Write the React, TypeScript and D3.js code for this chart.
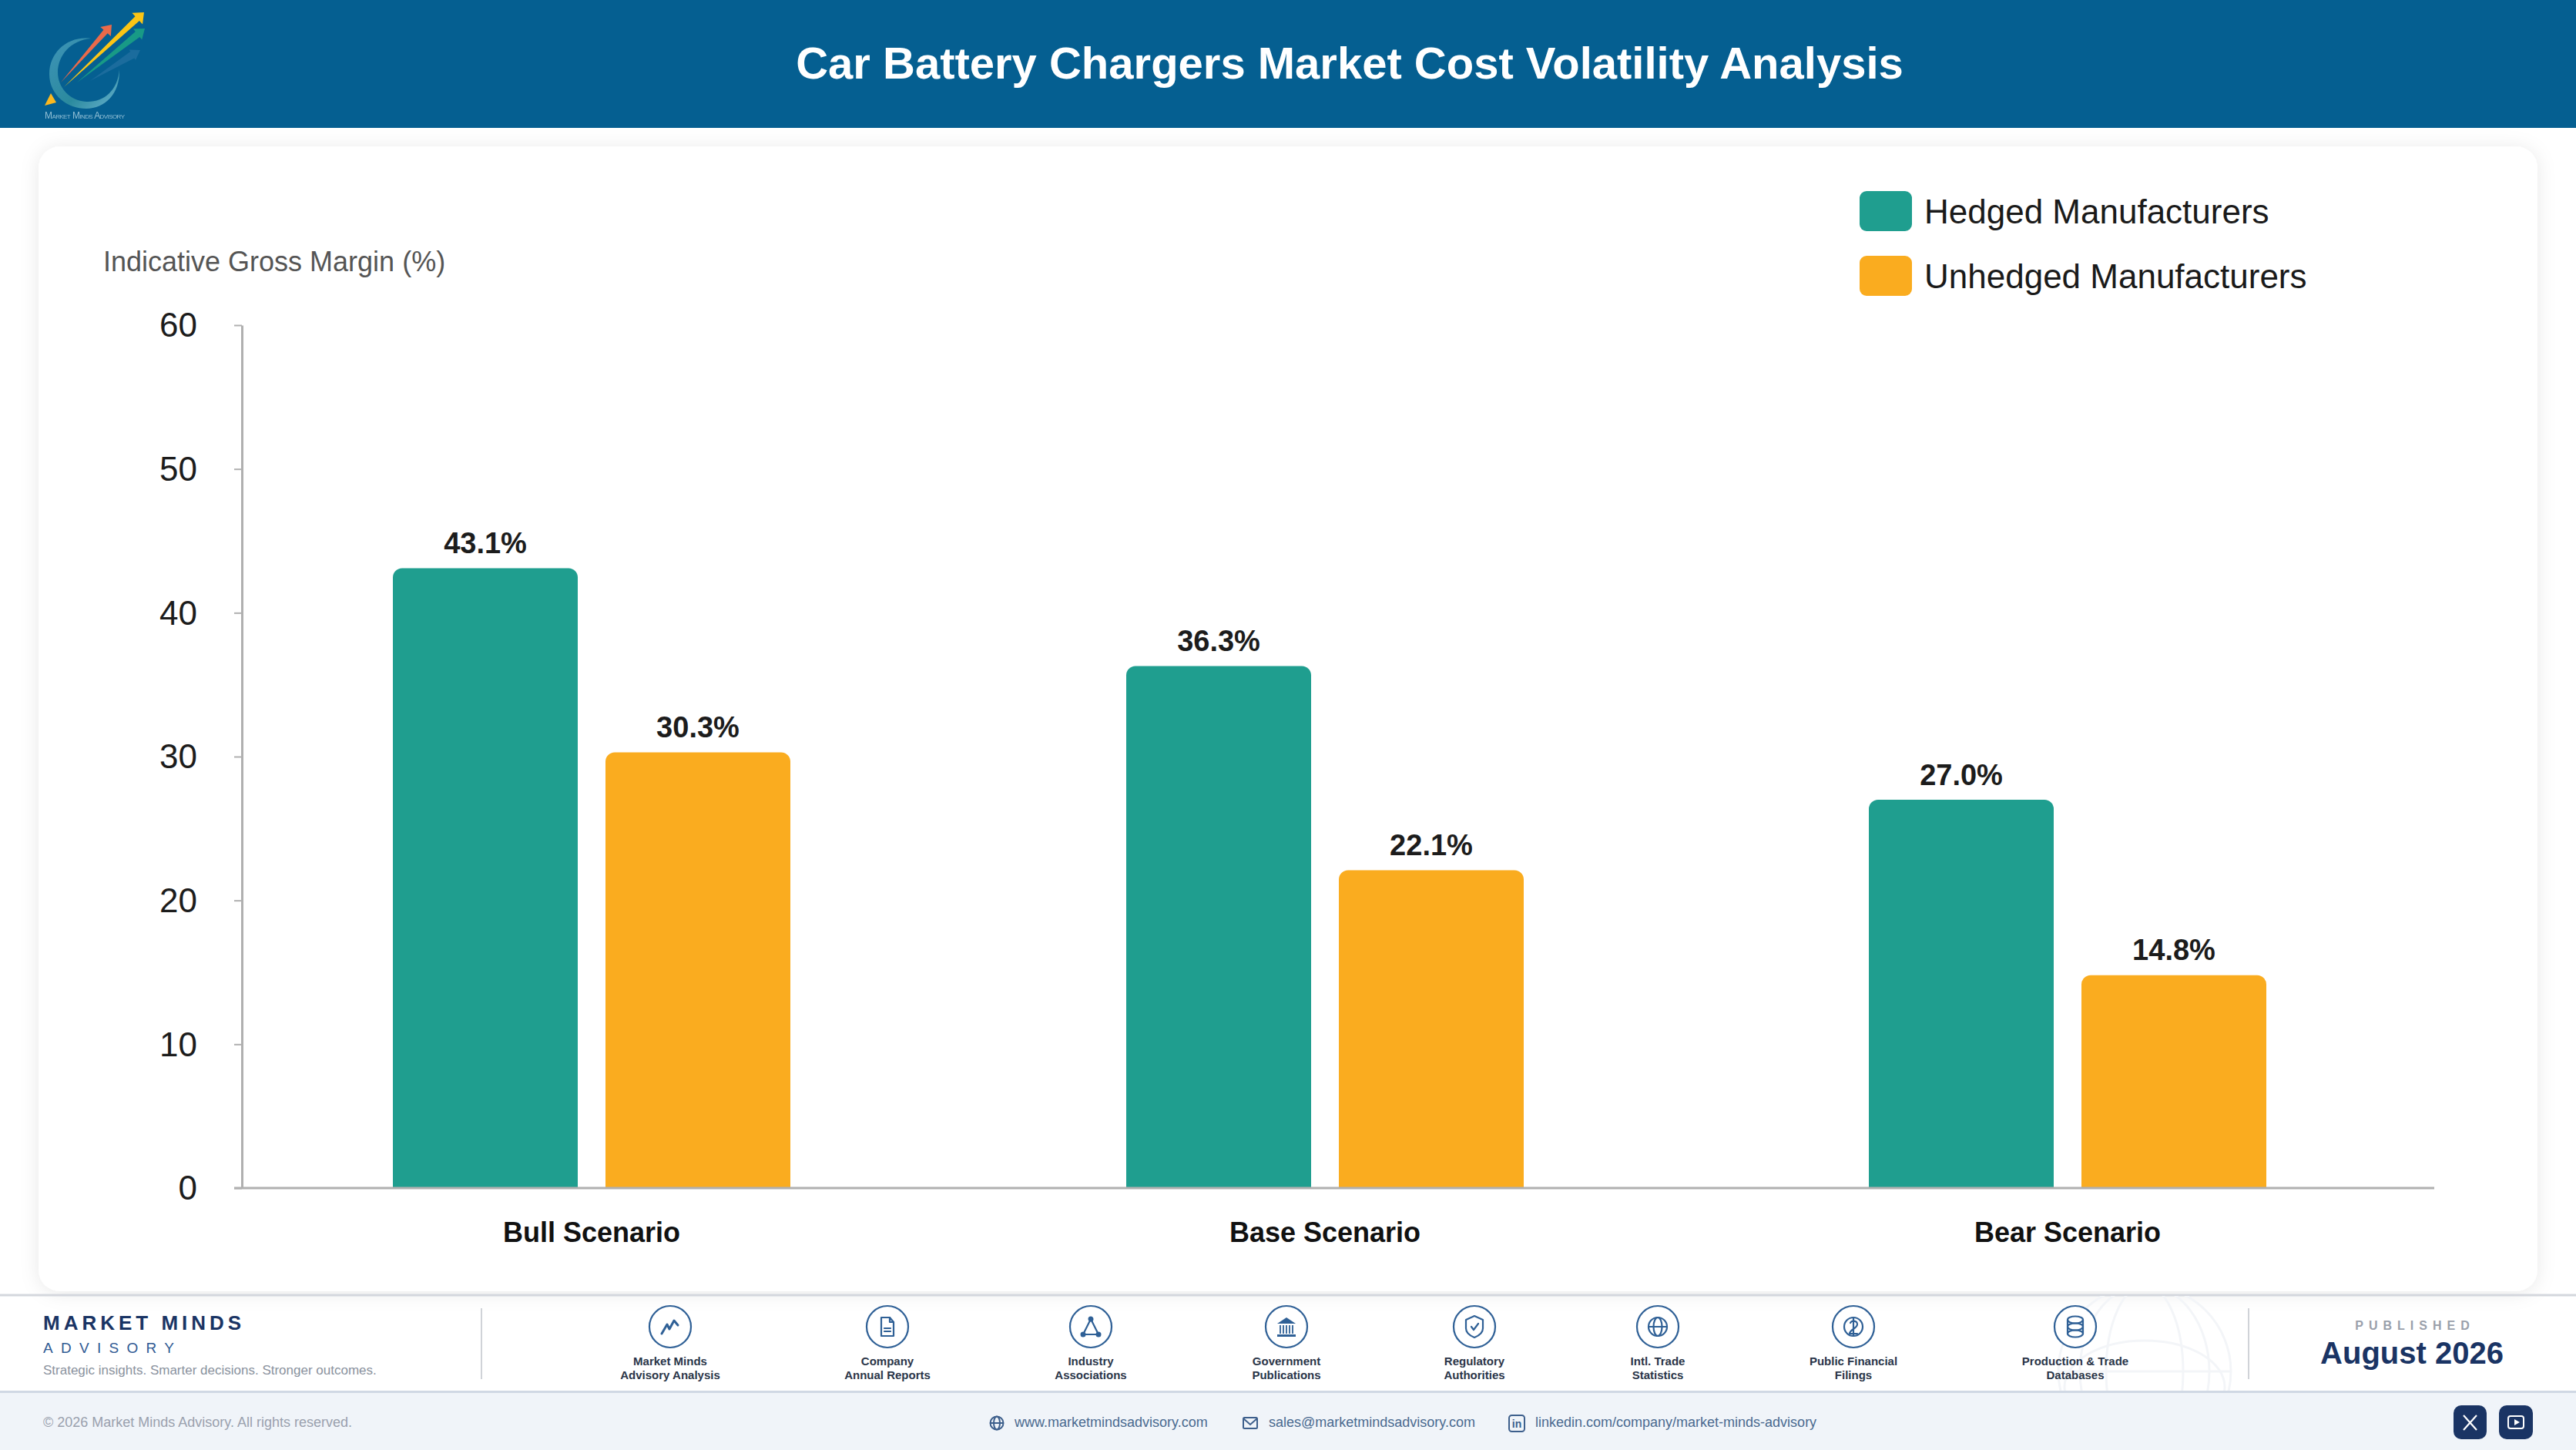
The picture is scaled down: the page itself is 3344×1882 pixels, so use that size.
import { useEffect, useRef } from 'react';
import * as d3 from 'd3';

const scenarios = ['Bull Scenario', 'Base Scenario', 'Bear Scenario'];
const seriesNames = ['Hedged Manufacturers', 'Unhedged Manufacturers'];
const hedged = [43.1, 36.3, 27.0];
const unhedged = [30.3, 22.1, 14.8];
const yTicks = [0, 10, 20, 30, 40, 50, 60];
const sourceLabels = [
  ['Market Minds', 'Advisory Analysis'],
  ['Company', 'Annual Reports'],
  ['Industry', 'Associations'],
  ['Government', 'Publications'],
  ['Regulatory', 'Authorities'],
  ['Intl. Trade', 'Statistics'],
  ['Public Financial', 'Filings'],
  ['Production & Trade', 'Databases'],
];

// layout, measured off the page
const W = 3344;
const H = 1882;
const FONT = '"Liberation Sans", Arial, sans-serif';
const NAVY = '#1a3464';
const ICON = '#2f6096';
const TEAL = '#1f9e8f';
const ORANGE = '#faac1f';
const plot = { left: 314, right: 3160, top: 422, bottom: 1542 };
const groupCenters = [768, 1720, 2684];
const sourceCenters = [870, 1152, 1416, 1670, 1914, 2152, 2406, 2694];

const y = d3.scaleLinear().domain([0, 60]).range([plot.bottom, plot.top]);
const groupX = d3.scaleOrdinal<string, number>().domain(scenarios).range(groupCenters);
const barX = d3.scaleBand().domain(seriesNames).range([-258, 258]).paddingInner(36 / 276);
const color = d3.scaleOrdinal<string, string>().domain(seriesNames).range([TEAL, ORANGE]);

function topRoundedBar(x: number, top: number, w: number, bottom: number, r: number) {
  const p = d3.path();
  p.moveTo(x, bottom);
  p.lineTo(x, top + r);
  p.arcTo(x, top, x + r, top, r);
  p.lineTo(x + w - r, top);
  p.arcTo(x + w, top, x + w, top + r, r);
  p.lineTo(x + w, bottom);
  p.closePath();
  return p.toString();
}

// logo arrow: thin tail widening to a barbed head
function arrowPath(tx: number, ty: number, hx: number, hy: number, shaft: number, barb: number, headLen: number) {
  const len = Math.hypot(hx - tx, hy - ty);
  const ux = (hx - tx) / len;
  const uy = (hy - ty) / len;
  const nx = -uy;
  const ny = ux;
  const bx = hx - ux * headLen;
  const by = hy - uy * headLen;
  const pts = [
    [tx, ty],
    [bx + nx * shaft, by + ny * shaft],
    [bx + nx * barb, by + ny * barb],
    [hx, hy],
    [bx - nx * barb, by - ny * barb],
    [bx - nx * shaft, by - ny * shaft],
  ];
  return d3.line()(pts as [number, number][]) + 'Z';
}

function Logo() {
  return (
    <g>
      <defs>
        <linearGradient id="ringGrad" x1="0" y1="0" x2="1" y2="1">
          <stop offset="0" stopColor="#3f94b8" />
          <stop offset="0.6" stopColor="#2b8a9e" />
          <stop offset="1" stopColor="#6ab3d0" />
        </linearGradient>
      </defs>
      <path
        d="M118 50 C88 46 64 68 64 96 C64 124 88 141 112 141 C136 141 156 122 155 90 C153 118 134 133 112 132 C90 131 75 113 75 94 C75 72 92 52 118 50 Z"
        fill="url(#ringGrad)"
      />
      <path d={arrowPath(117, 105, 182, 65, 5, 8, 12)} fill="#3d7fae" opacity={0.4} />
      <path d={arrowPath(100, 107, 188, 37, 4.5, 9, 12)} fill="#189a86" />
      <path d={arrowPath(79, 107, 145, 32, 3.5, 9, 12)} fill="#ea6a4a" />
      <path d={arrowPath(83, 113, 187, 16, 4, 10, 12)} fill="#fbc515" />
      <path d="M58 137 L73 133 L66 121 Z" fill="#fbb81f" />
      <text x={58} y={154} fontSize={12} fill="#a9cfe0" opacity={0.85} style={{ fontVariant: 'small-caps' }} textLength={104}>
        Market Minds Advisory
      </text>
    </g>
  );
}

function SourceIcon({ kind }: { kind: number }) {
  const common = { fill: 'none', stroke: ICON, strokeWidth: 2.2, strokeLinejoin: 'round' as const, strokeLinecap: 'round' as const };
  switch (kind) {
    case 0:
      return <path {...common} strokeWidth={3} d="M-11 9 L-4 -3 L-1 3 L5 -8 L10 -2" />;
    case 1:
      return (
        <g {...common}>
          <path d="M-8 -12 H3 L8 -6 V12 H-8 Z" />
          <path d="M3 -12 V-6 H8" />
          <path d="M-4 2 H4 M-4 6 H4" />
        </g>
      );
    case 2:
      return (
        <g {...common}>
          <path d="M0 -10 L-10 10 H10 Z" />
          <circle cx={0} cy={-10} r={2.4} fill={ICON} />
          <circle cx={-10} cy={10} r={2.4} fill={ICON} />
          <circle cx={10} cy={10} r={2.4} fill={ICON} />
        </g>
      );
    case 3:
      return (
        <g>
          <path d="M0 -12 L12 -4 H-12 Z" fill={ICON} />
          <path d="M-8 -2 V9 M-4 -2 V9 M0 -2 V9 M4 -2 V9 M8 -2 V9" stroke={ICON} strokeWidth={1.8} />
          <rect x={-12} y={10} width={24} height={3} fill={ICON} />
        </g>
      );
    case 4:
      return (
        <g {...common}>
          <path d="M0 -14 L11 -9 V2 C11 8 5 12 0 14 C-5 12 -11 8 -11 2 V-9 Z" />
          <path d="M-4 0 L-1 4 L5 -4" />
        </g>
      );
    case 5:
      return (
        <g {...common}>
          <circle r={12} />
          <ellipse rx={5.5} ry={12} />
          <path d="M-12 0 H12" />
        </g>
      );
    case 6:
      return (
        <g {...common}>
          <circle r={12} />
          <path d="M-4 -5 C-2 -9 5 -8 5 -3 C5 2 -5 4 -5 9 H5 M0 -11 V11" />
        </g>
      );
    default:
      return (
        <g {...common}>
          <ellipse cy={-9} rx={10} ry={4.5} />
          <ellipse cy={0} rx={10} ry={4.5} />
          <ellipse cy={9} rx={10} ry={4.5} />
          <path d="M-10 -9 V9 M10 -9 V9" />
        </g>
      );
  }
}

export default function App() {
  const yAxisRef = useRef<SVGGElement | null>(null);

  useEffect(() => {
    if (!yAxisRef.current) return;
    const g = d3.select(yAxisRef.current);
    g.call(d3.axisLeft(y).tickValues(yTicks).tickSize(10).tickSizeOuter(0).tickPadding(48));
    g.selectAll('.domain').attr('stroke', '#b0b0b0').attr('stroke-width', 3);
    g.selectAll('.tick line').attr('stroke', '#b0b0b0').attr('stroke-width', 2);
    g.selectAll('.tick text')
      .attr('font-family', FONT)
      .attr('font-size', 44)
      .attr('dy', '0.34em')
      .attr('fill', '#1c1c1c');
  }, []);

  return (
    <svg
      width={W}
      height={H}
      viewBox={`0 0 ${W} ${H}`}
      style={{ position: 'absolute', left: 0, top: 0, display: 'block', background: '#fff', fontFamily: FONT }}
    >
      <defs>
        <filter id="cardShadow" x="-5%" y="-5%" width="110%" height="110%">
          <feDropShadow dx="0" dy="2" stdDeviation="12" floodColor="#000" floodOpacity="0.09" />
        </filter>
        <clipPath id="footerClip">
          <rect x={0} y={1682} width={W} height={124} />
        </clipPath>
      </defs>

      {/* header */}
      <rect x={0} y={0} width={W} height={166} fill="#055f91" />
      <Logo />
      <text x={1752} y={102} textAnchor="middle" fontSize={58} fontWeight={700} fill="#fff">
        Car Battery Chargers Market Cost Volatility Analysis
      </text>

      {/* card */}
      <rect x={50} y={190} width={3244} height={1486} rx={28} fill="#fff" filter="url(#cardShadow)" />

      {/* axis title */}
      <text x={134} y={352} fontSize={36} fill="#555">
        Indicative Gross Margin (%)
      </text>

      {/* legend */}
      {seriesNames.map((s, i) => (
        <g key={s}>
          <rect x={2414} y={248 + i * 84} width={68} height={52} rx={9} fill={color(s)} />
          <text x={2498} y={290 + i * 84} fontSize={44} fill="#1a1a1a">
            {s}
          </text>
        </g>
      ))}

      {/* bars */}
      {scenarios.map((c, i) => {
        const values = [hedged[i], unhedged[i]];
        return (
          <g key={c} transform={`translate(${groupX(c)},0)`}>
            {seriesNames.map((s, j) => (
              <g key={s}>
                <path
                  d={topRoundedBar(barX(s)!, y(values[j]), barX.bandwidth(), y(0), 12)}
                  fill={color(s)}
                />
                <text
                  x={barX(s)! + barX.bandwidth() / 2}
                  y={y(values[j]) - 19.5}
                  textAnchor="middle"
                  fontSize={38}
                  fontWeight={700}
                  fill="#1c1c1c"
                >
                  {values[j].toFixed(1)}%
                </text>
              </g>
            ))}
            <text y={1612} textAnchor="middle" fontSize={36} fontWeight={700} fill="#111">
              {c}
            </text>
          </g>
        );
      })}

      {/* axes */}
      <line x1={304} x2={plot.right} y1={y(0)} y2={y(0)} stroke="#b0b0b0" strokeWidth={3} />
      <g ref={yAxisRef} transform={`translate(${plot.left},0)`} />

      {/* footer */}
      <rect x={0} y={1679.5} width={W} height={3} fill="#d4d7dd" />
      <g clipPath="url(#footerClip)" fill="none" stroke="#f3f5f8" strokeWidth={3}>
        <circle cx={2784} cy={1780} r={112} />
        <ellipse cx={2784} cy={1780} rx={50} ry={112} />
        <ellipse cx={2784} cy={1780} rx={84} ry={112} />
        <path d="M2672 1780 H2896" />
        <ellipse cx={2784} cy={1800} rx={104} ry={60} />
      </g>
      <rect x={0} y={1805} width={W} height={77} fill="#f0f4f9" />
      <rect x={0} y={1805} width={W} height={3} fill="#d0d8e4" />

      <text x={56} y={1726} fontSize={26} fontWeight={700} fill={NAVY} letterSpacing={5}>
        MARKET MINDS
      </text>
      <text x={56} y={1756} fontSize={19} fill="#2f5a93" letterSpacing={10.3}>
        ADVISORY
      </text>
      <text x={56} y={1784} fontSize={17} fill="#8a929e">
        Strategic insights. Smarter decisions. Stronger outcomes.
      </text>
      <line x1={625} x2={625} y1={1698} y2={1790} stroke="#d0d3d8" strokeWidth={2} />
      <line x1={2919} x2={2919} y1={1698} y2={1790} stroke="#d0d3d8" strokeWidth={2} />

      {sourceLabels.map((lines, i) => (
        <g key={lines[0]} transform={`translate(${sourceCenters[i]},0)`}>
          <circle cy={1722} r={27} fill="#fff" stroke={ICON} strokeWidth={2.2} />
          <g transform="translate(0,1722)">
            <SourceIcon kind={i} />
          </g>
          {lines.map((t, k) => (
            <text key={t} y={1772 + k * 18} textAnchor="middle" fontSize={15} fontWeight={700} fill="#2a3548">
              {t}
            </text>
          ))}
        </g>
      ))}

      <text x={3135} y={1726} textAnchor="middle" fontSize={16} fontWeight={700} fill="#9aa0ab" letterSpacing={7}>
        PUBLISHED
      </text>
      <text x={3131} y={1770} textAnchor="middle" fontSize={40} fontWeight={700} fill={NAVY}>
        August 2026
      </text>

      <text x={56} y={1852} fontSize={18} fill="#9aa1ae">
        © 2026 Market Minds Advisory. All rights reserved.
      </text>

      <g fill="none" stroke="#3d5f8c" strokeWidth={2}>
        <circle cx={1294} cy={1847} r={8.5} />
        <ellipse cx={1294} cy={1847} rx={4} ry={8.5} />
        <path d="M1285 1847 H1303" />
        <rect x={1614} y={1840} width={18} height={14} rx={1.5} />
        <path d="M1614 1841 L1623 1849 L1632 1841" />
        <rect x={1959} y={1837} width={20} height={21} rx={3.5} />
      </g>
      <text x={1969} y={1853} textAnchor="middle" fontSize={14} fontWeight={700} fill="#3d5f8c">
        in
      </text>
      <g fontSize={18} fill="#4a6a90">
        <text x={1317} y={1852}>www.marketmindsadvisory.com</text>
        <text x={1647} y={1852}>sales@marketmindsadvisory.com</text>
        <text x={1993} y={1852}>linkedin.com/company/market-minds-advisory</text>
      </g>

      <rect x={3185} y={1824} width={43} height={44} rx={10} fill={NAVY} />
      <path d="M3198 1837 L3215 1856 M3215 1837 L3198 1856" stroke="#fff" strokeWidth={2.2} />
      <rect x={3244} y={1824} width={44} height={44} rx={10} fill={NAVY} />
      <rect x={3256} y={1838} width={20} height={16} rx={3} fill="none" stroke="#fff" strokeWidth={2} />
      <path d="M3264 1842 L3271 1846 L3264 1850 Z" fill="#fff" />
    </svg>
  );
}
